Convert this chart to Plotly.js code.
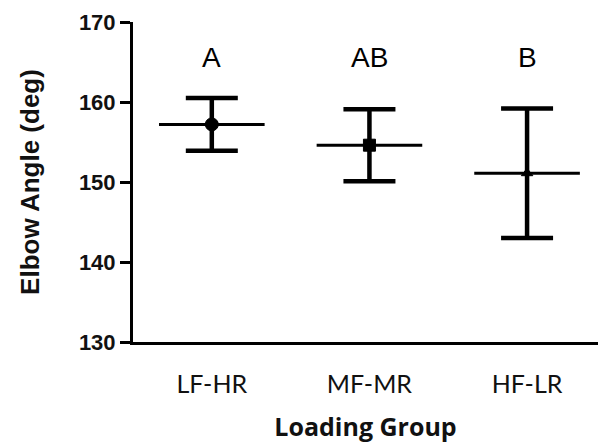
<!DOCTYPE html>
<html>
<head>
<meta charset="utf-8">
<script src="https://cdn.plot.ly/plotly-3.0.1.min.js"></script>
<style>html,body{margin:0;padding:0;background:#fff;}#chart{width:598px;height:443px;}</style>
</head>
<body>
<div id="chart"></div>
<script>
var groups = ['LF-HR', 'MF-MR', 'HF-LR'];
var means = [157.2, 154.6, 151.1];
var sds = [3.3, 4.5, 8.1];
var letters = ['A', 'AB', 'B'];
var yTicks = [130, 140, 150, 160, 170];

var xPos = groups.map(function (g, i) { return i; });

var trace = {
  type: 'scatter',
  mode: 'markers',
  x: xPos,
  y: means,
  marker: {
    color: '#000',
    opacity: 1,
    symbol: ['circle', 'square', 'triangle-up'],
    size: [13, 12, 10],
    line: {color: '#000', width: 1}
  },
  error_y: {type: 'data', array: sds, visible: true, color: '#000', thickness: 4.5, width: 26},
  error_x: {type: 'constant', value: 0.335, visible: true, color: '#000', thickness: 3, width: 0},
  showlegend: false,
  hoverinfo: 'none'
};

var annotations = letters.map(function (t, i) {
  return {
    x: xPos[i], y: 165.6, xref: 'x', yref: 'y', text: t, showarrow: false,
    font: {family: 'Liberation Sans, Arial, sans-serif', size: 28, color: '#000'},
    xanchor: 'center', yanchor: 'middle'
  };
});

var layout = {
  width: 598, height: 443,
  margin: {l: 133, r: 0, t: 22, b: 101},
  paper_bgcolor: '#fff', plot_bgcolor: '#fff',
  showlegend: false,
  xaxis: {
    range: [-0.5, 2.45],
    tickvals: xPos,
    ticktext: groups,
    showline: true, linecolor: '#000', linewidth: 3,
    ticks: '', showgrid: false, zeroline: false,
    ticklabelstandoff: 18,
    tickfont: {family: 'Lato, Open Sans, sans-serif', size: 25, color: '#111'},
    title: {text: 'Loading Group', standoff: 24,
      font: {family: 'Open Sans, Lato, sans-serif', size: 25, color: '#111', weight: 'bold'}}
  },
  yaxis: {
    range: [130, 170],
    tickvals: yTicks,
    ticktext: yTicks.map(String),
    showline: true, linecolor: '#000', linewidth: 3,
    ticks: 'outside', ticklen: 10, tickwidth: 3, tickcolor: '#000',
    showgrid: false, zeroline: false,
    tickfont: {family: 'Liberation Sans, Arial, sans-serif', size: 22, color: '#111', weight: 'bold'},
    title: {text: 'Elbow Angle (deg)', standoff: 32,
      font: {family: 'Liberation Sans, Arial, sans-serif', size: 26, color: '#111', weight: 'bold'}}
  },
  annotations: annotations
};

Plotly.newPlot('chart', [trace], layout, {displayModeBar: false, staticPlot: true});
</script>
</body>
</html>
